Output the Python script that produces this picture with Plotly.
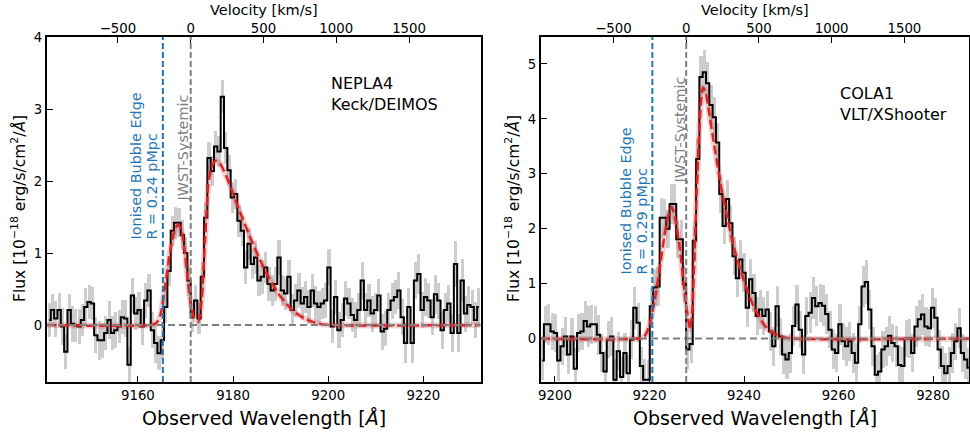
import plotly.graph_objects as go

C_KMS = 299792.458
W, H = 970, 434

# ---------------- NEPLA4 (Keck/DEIMOS) ----------------
nepla4_wave_start = 9141.35
nepla4_wave_step = 0.7
nepla4_flux = [
    0.07, 0.21, 0.09, 0.21, -0.02, -0.37, 0.21, 0.02, 0.00, -0.02,
    0.07, 0.25, 0.32, 0.30, -0.14, -0.21, -0.21, -0.11, 0.07, -0.11,
    -0.07, -0.02, 0.11, 0.09, -0.55, 0.41, 0.16, 0.21, -0.02, 0.34,
    0.48, -0.07, -0.25, -0.39, -0.21, 0.25, 0.75, 1.31, 1.42, 1.42,
    1.25, 1.00, 0.62, 0.11, 0.34, 0.09, 0.67, 1.49, 2.32, 2.14,
    2.48, 2.41, 3.17, 2.46, 2.15, 1.77, 1.82, 1.45, 1.31, 0.80,
    1.13, 0.85, 0.94, 0.62, 0.67, 0.80, 0.57, 0.48, 0.57, 0.94,
    0.48, 0.44, 0.67, 0.21, 0.34, 0.48, 0.30, 0.39, 0.25, 0.48,
    0.30, 0.25, 0.30, 0.34, 0.80, -0.02, 0.39, -0.07, 0.07, 0.37,
    0.30, 0.14, 0.07, 0.21, 0.62, 0.21, 0.34, 0.16, 0.21, 0.41,
    -0.09, -0.05, 0.21, 0.34, 0.39, 0.48, 0.11, -0.25, 0.25, -0.25,
    0.62, 0.71, 0.21, 0.39, 0.34, 0.11, 0.43, 0.34, -0.07, 0.21,
    0.30, -0.11, 0.85, -0.11, 0.62, 0.16, 0.28, 0.25, 0.07, 0.25,
]
nepla4_err = [
    0.24, 0.22, 0.25, 0.23, 0.26, 0.24, 0.22, 0.25, 0.23, 0.24,
    0.22, 0.26, 0.24, 0.23, 0.25, 0.27, 0.24, 0.23, 0.26, 0.24,
    0.25, 0.23, 0.24, 0.26, 0.25, 0.24, 0.23, 0.25, 0.26, 0.24,
    0.23, 0.25, 0.27, 0.24, 0.26, 0.22, 0.21, 0.20, 0.22, 0.20,
    0.21, 0.22, 0.21, 0.20, 0.22, 0.21, 0.20, 0.21, 0.22, 0.21,
    0.22, 0.21, 0.23, 0.22, 0.21, 0.22, 0.21, 0.22, 0.21, 0.23,
    0.22, 0.21, 0.23, 0.22, 0.24, 0.22, 0.23, 0.21, 0.23, 0.24,
    0.22, 0.23, 0.24, 0.22, 0.23, 0.24, 0.23, 0.22, 0.24, 0.23,
    0.24, 0.23, 0.22, 0.24, 0.25, 0.23, 0.24, 0.25, 0.23, 0.24,
    0.22, 0.24, 0.25, 0.23, 0.26, 0.24, 0.23, 0.25, 0.24, 0.23,
    0.25, 0.24, 0.23, 0.25, 0.24, 0.26, 0.25, 0.28, 0.26, 0.27,
    0.26, 0.28, 0.25, 0.26, 0.24, 0.25, 0.27, 0.25, 0.26, 0.24,
    0.25, 0.26, 0.32, 0.27, 0.30, 0.25, 0.26, 0.24, 0.25, 0.26,
]
nepla4_model_wave = [
    9140.9, 9162.8, 9163.9, 9164.7, 9165.7, 9166.8, 9167.8, 9168.5,
    9169.2, 9169.9, 9170.5, 9171.1, 9171.8, 9172.7, 9173.4, 9174.1,
    9174.8, 9175.5, 9176.3, 9177.2, 9179.0, 9181.1, 9183.9, 9186.7,
    9189.5, 9192.4, 9195.1, 9197.9, 9200.8, 9232.0,
]
nepla4_model_flux = [
    0.0, 0.0, 0.03, 0.13, 0.53, 1.03, 1.33, 1.40,
    1.30, 1.00, 0.62, 0.30, 0.11, 0.05, 0.34, 1.17,
    1.95, 2.20, 2.28, 2.25, 2.00, 1.63, 1.17, 0.76,
    0.44, 0.21, 0.09, 0.02, 0.0, 0.0,
]
nepla4_systemic = 9171.1
nepla4_bubble_edge = 9165.25
nepla4_xrange = [9140.9, 9232.0]
nepla4_yrange = [-0.79, 4.0]

# ---------------- COLA1 (VLT/XShooter) ----------------
cola1_wave_start = 9197.3
cola1_wave_step = 0.7
cola1_flux = [
    -0.40, 0.26, 0.26, 0.13, 0.10, -0.40, -0.14, 0.04, -0.29, 0.04,
    -0.55, 0.10, 0.13, 0.32, 0.22, 0.26, 0.26, 0.07, -0.26, -0.60,
    -0.02, 0.04, -0.75, -0.23, -0.70, -0.26, -0.63, -0.02, 0.56, 0.29,
    -0.50, -0.75, -0.75, 0.59, 0.93, 0.95, 2.20, 2.20, 2.00, 2.45,
    2.45, 1.81, 1.81, 1.00, -0.20, -0.10, 1.78, 3.27, 4.76, 4.85,
    4.65, 4.25, 4.03, 3.57, 2.63, 2.05, 2.54, 2.10, 1.50, 1.10,
    1.44, 1.20, 0.56, 1.08, 0.83, 0.41, 0.53, 0.41, 0.53, 0.13,
    -0.14, 0.59, 0.04, -0.29, -0.38, -0.26, 0.23, 0.62, 0.16, -0.29,
    0.41, 0.47, 0.74, 0.59, 0.65, 0.60, 0.45, 0.16, -0.20, -0.26,
    0.26, -0.05, -0.14, -0.05, -0.26, -0.44, 0.26, 0.95, 1.03, 0.53,
    -0.14, -0.66, -0.60, -0.20, -0.14, 0.05, -0.08, -0.14, -0.48, -0.50,
    0.00, 0.00, -0.26, 0.22, 0.35, 0.44, 0.22, 0.19, 0.56, 0.38,
    -0.20, -0.50, -0.63, -0.50, -0.26, -0.05, 0.19, -0.26, -0.38, -0.53,
]
cola1_err = [
    0.36, 0.34, 0.37, 0.33, 0.35, 0.38, 0.34, 0.36, 0.35, 0.33,
    0.37, 0.35, 0.34, 0.36, 0.38, 0.35, 0.34, 0.36, 0.35, 0.37,
    0.34, 0.36, 0.38, 0.35, 0.37, 0.36, 0.34, 0.35, 0.38, 0.36,
    0.35, 0.37, 0.36, 0.33, 0.34, 0.35, 0.36, 0.34, 0.35, 0.37,
    0.36, 0.35, 0.34, 0.33, 0.35, 0.34, 0.35, 0.36, 0.38, 0.40,
    0.38, 0.37, 0.36, 0.35, 0.34, 0.33, 0.35, 0.34, 0.35, 0.34,
    0.36, 0.35, 0.34, 0.36, 0.35, 0.34, 0.36, 0.35, 0.34, 0.36,
    0.35, 0.37, 0.34, 0.36, 0.35, 0.37, 0.36, 0.35, 0.34, 0.36,
    0.35, 0.37, 0.38, 0.36, 0.35, 0.37, 0.36, 0.34, 0.36, 0.35,
    0.37, 0.34, 0.36, 0.35, 0.37, 0.36, 0.34, 0.38, 0.40, 0.36,
    0.35, 0.37, 0.36, 0.34, 0.35, 0.36, 0.34, 0.37, 0.36, 0.35,
    0.34, 0.36, 0.35, 0.37, 0.36, 0.38, 0.35, 0.34, 0.37, 0.36,
    0.35, 0.36, 0.37, 0.35, 0.36, 0.34, 0.37, 0.35, 0.36, 0.35,
]
cola1_model_wave = [
    9197.0, 9217.5, 9218.9, 9219.9, 9221.1, 9222.2, 9223.2, 9224.0,
    9224.7, 9225.4, 9226.4, 9227.4, 9228.1, 9228.6, 9229.1, 9229.7,
    9230.4, 9230.9, 9231.3, 9231.8, 9232.5, 9233.6, 9235.0, 9236.4,
    9237.8, 9239.9, 9242.0, 9244.8, 9247.6, 9250.5, 9287.6,
]
cola1_model_flux = [
    0.0, 0.0, 0.04, 0.22, 0.70, 1.30, 1.90, 2.25,
    2.40, 2.20, 1.65, 0.85, 0.40, 0.17, 0.60, 2.00,
    3.55, 4.30, 4.57, 4.50, 4.18, 3.57, 2.84, 2.23,
    1.68, 1.08, 0.59, 0.19, 0.04, 0.0, 0.0,
]
cola1_systemic = 9227.76
cola1_bubble_edge = 9220.6
cola1_xrange = [9197.04, 9287.6]
cola1_yrange = [-0.79, 5.49]

vel_ticks = [-500, 0, 500, 1000, 1500]
wave_ticks_left = [9160, 9180, 9200, 9220]
wave_ticks_right = [9200, 9220, 9240, 9260, 9280]

FONT = "DejaVu Sans"
BLUE = "#1f77b4"
GREY = "#808080"
RED = "#d62728"


def px(x):
    return x / W


def py(y):
    return 1 - y / H


fig = go.Figure()

panels = [
    dict(wave0=nepla4_wave_start, step=nepla4_wave_step, flux=nepla4_flux,
         err=nepla4_err, mw=nepla4_model_wave, mf=nepla4_model_flux,
         sysw=nepla4_systemic, edge=nepla4_bubble_edge, xa="x", ya="y"),
    dict(wave0=cola1_wave_start, step=cola1_wave_step, flux=cola1_flux,
         err=cola1_err, mw=cola1_model_wave, mf=cola1_model_flux,
         sysw=cola1_systemic, edge=cola1_bubble_edge, xa="x2", ya="y2"),
]

for p in panels:
    wave = [p["wave0"] + p["step"] * i for i in range(len(p["flux"]))]
    lo = [f - e for f, e in zip(p["flux"], p["err"])]
    hi2 = [2 * e for e in p["err"]]
    fig.add_trace(go.Bar(x=wave, y=hi2, base=lo, width=p["step"] * 0.95,
                         marker=dict(color="#cdcdcd", line=dict(width=0)),
                         xaxis=p["xa"], yaxis=p["ya"], showlegend=False,
                         hoverinfo="skip"))
    fig.add_trace(go.Scatter(x=wave, y=p["flux"], mode="lines",
                             line=dict(color="black", width=2, shape="hvh"),
                             xaxis=p["xa"], yaxis=p["ya"], showlegend=False))
    fig.add_trace(go.Scatter(x=p["mw"], y=p["mf"], mode="lines",
                             line=dict(color="rgba(214,39,40,0.22)", width=6,
                                       shape="spline", smoothing=0.6),
                             xaxis=p["xa"], yaxis=p["ya"], showlegend=False))
    fig.add_trace(go.Scatter(x=p["mw"], y=p["mf"], mode="lines",
                             line=dict(color=RED, width=2.5, dash="9px,4px",
                                       shape="spline", smoothing=0.6),
                             xaxis=p["xa"], yaxis=p["ya"], showlegend=False))


def vel(lam, sysw):
    return C_KMS * (lam / sysw - 1.0)


v_left = [vel(l, nepla4_systemic) for l in nepla4_xrange]
v_right = [vel(l, cola1_systemic) for l in cola1_xrange]
fig.add_trace(go.Scatter(x=v_left, y=[0, 0], mode="markers", marker=dict(opacity=0),
                         xaxis="x3", yaxis="y", showlegend=False, hoverinfo="skip"))
fig.add_trace(go.Scatter(x=v_right, y=[0, 0], mode="markers", marker=dict(opacity=0),
                         xaxis="x4", yaxis="y2", showlegend=False, hoverinfo="skip"))

for p in panels:
    fig.add_shape(type="line", xref=p["xa"], yref=p["ya"] + " domain",
                  x0=p["edge"], x1=p["edge"], y0=0, y1=1,
                  line=dict(color=BLUE, width=2, dash="6px,3px"), layer="above")
    fig.add_shape(type="line", xref=p["xa"], yref=p["ya"] + " domain",
                  x0=p["sysw"], x1=p["sysw"], y0=0, y1=1,
                  line=dict(color=GREY, width=2, dash="6px,3px"), layer="above")
    fig.add_shape(type="line", xref=p["xa"] + " domain", yref=p["ya"],
                  x0=0, x1=1, y0=0, y1=0,
                  line=dict(color=GREY, width=2, dash="7px,4px"), layer="above")

tickfont = dict(family=FONT, size=13.3, color="black")
common = dict(ticks="inside", ticklen=6, tickwidth=1.3, tickcolor="black",
              showline=True, linewidth=2, linecolor="black", mirror=True,
              showgrid=False, zeroline=False, tickfont=tickfont)
top_x = dict(ticks="inside", ticklen=6, tickwidth=1.3, tickcolor="black",
             showline=False, showgrid=False, zeroline=False, tickfont=tickfont,
             side="top", tickvals=vel_ticks)

yd = [py(382), py(37)]
fig.update_layout(
    width=W, height=H,
    margin=dict(l=0, r=0, t=0, b=0, autoexpand=False),
    paper_bgcolor="white", plot_bgcolor="white",
    barmode="overlay", bargap=0,
    showlegend=False,
    font=dict(family=FONT, color="black"),
    xaxis=dict(domain=[px(47), px(480.5)], range=nepla4_xrange, anchor="y",
               tickvals=wave_ticks_left, **common),
    yaxis=dict(domain=yd, range=nepla4_yrange, anchor="x",
               tickvals=[0, 1, 2, 3, 4], **common),
    xaxis2=dict(domain=[px(541), px(969)], range=cola1_xrange, anchor="y2",
                tickvals=wave_ticks_right, **common),
    yaxis2=dict(domain=yd, range=cola1_yrange, anchor="x2",
                tickvals=[0, 1, 2, 3, 4, 5], **common),
    xaxis3=dict(overlaying="x", anchor="y", range=v_left, **top_x),
    xaxis4=dict(overlaying="x2", anchor="y2", range=v_right, **top_x),
)

ylab = "Flux [10<sup>−18</sup> erg/s/cm<sup>2</sup>/<i>Å</i>]"
xlab = "Observed Wavelength [<i>Å</i>]"
for cx, ylx in [(264, 18), (755, 512)]:
    fig.add_annotation(x=px(cx), y=py(418), xref="paper", yref="paper", text=xlab,
                       showarrow=False, font=dict(size=19, family=FONT, color="black"),
                       xanchor="center", yanchor="middle")
    fig.add_annotation(x=px(cx), y=py(10), xref="paper", yref="paper",
                       text="Velocity [km/s]", showarrow=False,
                       font=dict(size=14.5, family=FONT, color="black"),
                       xanchor="center", yanchor="middle")
    fig.add_annotation(x=px(ylx), y=py(209), xref="paper", yref="paper", text=ylab,
                       showarrow=False, textangle=-90,
                       font=dict(size=15.5, family=FONT, color="black"),
                       xanchor="center", yanchor="middle")

vtexts = [
    (135, 242, "Ionised Bubble Edge", BLUE),
    (151, 242, "R = 0.24 pMpc", BLUE),
    (183, 204, "JWST-Systemic", GREY),
    (625, 277, "Ionised Bubble Edge", BLUE),
    (641, 277, "R = 0.29 pMpc", BLUE),
    (679, 186, "JWST-Systemic", GREY),
]
for x, y, t, c in vtexts:
    fig.add_annotation(x=px(x), y=py(y), xref="paper", yref="paper", text=t,
                       showarrow=False, textangle=-90, xanchor="center",
                       yanchor="bottom", font=dict(size=14.4, color=c, family=FONT))

for x, y, t in [(329, 94, "NEPLA4<br>Keck/DEIMOS"), (838, 104, "COLA1<br>VLT/XShooter")]:
    fig.add_annotation(x=px(x), y=py(y), xref="paper", yref="paper", text=t,
                       showarrow=False, align="left", xanchor="left",
                       yanchor="middle", font=dict(size=16, family=FONT, color="black"))

fig.write_html(
    "out.html",
    config={"displayModeBar": False},
    post_script="document.body.style.margin='0px';document.body.style.padding='0px';"
                "document.body.style.overflow='hidden';",
)
